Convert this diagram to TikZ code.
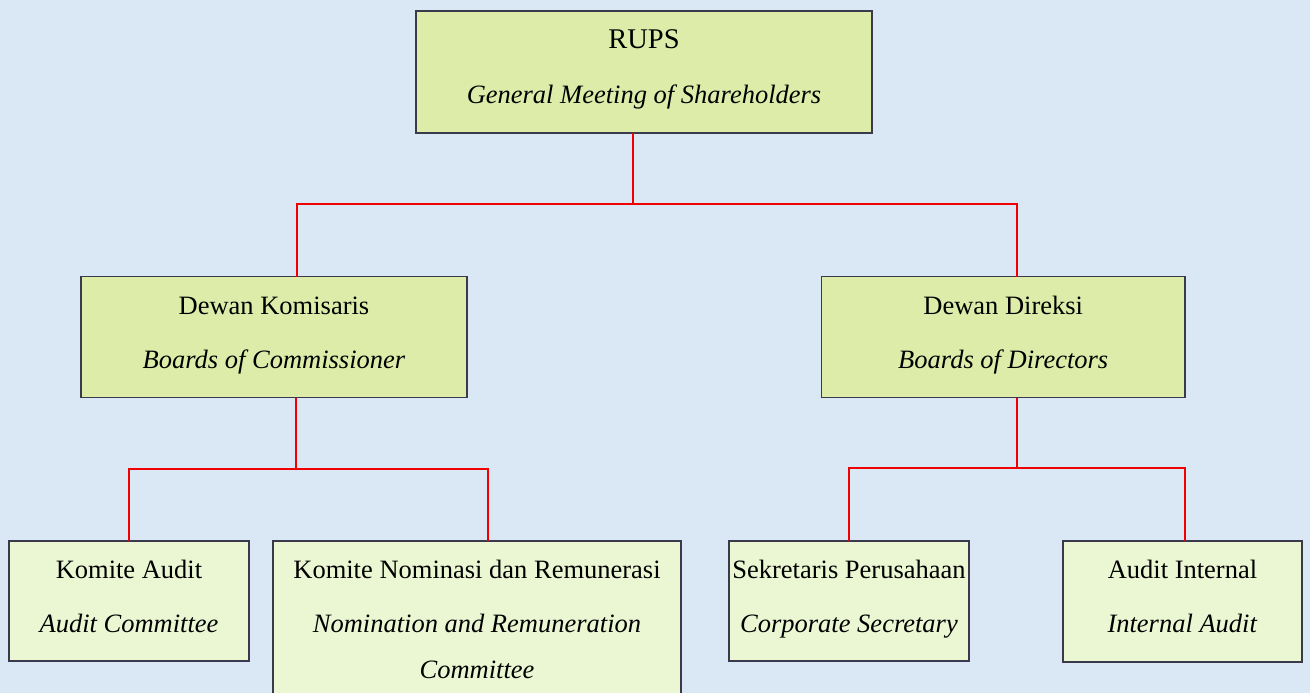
\documentclass[tikz,border=0pt]{standalone}
\usepackage{fontspec}
\setmainfont{Liberation Serif}
\definecolor{bgblue}{HTML}{DAE7F4}
\definecolor{topfill}{HTML}{DDEDA9}
\definecolor{lowfill}{HTML}{EBF6D3}
\definecolor{boxline}{HTML}{3A3A4C}
\definecolor{linkred}{HTML}{F00000}
% box content: width, height, lines
\newcommand{\orgtext}[3]{%
  \begin{minipage}[t][#2pt][t]{#1pt}\centering
  \fontsize{26.5}{54}\selectfont
  \rule{0pt}{37.5pt}#3\end{minipage}}
\tikzset{
  orgbox/.style={draw=boxline, line width=1.4pt, inner sep=0pt, outer sep=0pt, rectangle},
  topbox/.style={orgbox, fill=topfill},
  lowbox/.style={orgbox, fill=lowfill},
  link/.style={draw=linkred, line width=2pt}
}
\begin{document}
\begin{tikzpicture}[x=1pt,y=-1pt]
\useasboundingbox (0,0) rectangle (1310,693);
\clip (0,0) rectangle (1310,693);
\fill[bgblue] (0,0) rectangle (1310,693);

\node[topbox, anchor=north west] (rups) at (416,11)
  {\orgtext{456}{122}{{\fontsize{28.5}{54}\selectfont RUPS}\\[1pt]\textit{General Meeting of Shareholders}}};
\node[topbox, anchor=north west] (dk) at (81,276.5)
  {\orgtext{386}{121}{Dewan Komisaris\\\textit{Boards of Commissioner}}};
\node[topbox, anchor=north west] (dd) at (821.5,276.5)
  {\orgtext{363.5}{121}{Dewan Direksi\\\textit{Boards of Directors}}};
\node[lowbox, anchor=north west] (ka) at (9,541)
  {\orgtext{240}{120}{Komite Audit\\\textit{Audit Committee}}};
\node[lowbox, anchor=north west] (knr) at (273,541)
  {\orgtext{408}{170}{Komite Nominasi dan Remunerasi\\\textit{Nomination and Remuneration}\\[-8pt]\textit{Committee}}};
\node[lowbox, anchor=north west] (sp) at (729,541)
  {\orgtext{240}{120}{Sekretaris Perusahaan\\\textit{Corporate Secretary}}};
\node[lowbox, anchor=north west] (ai) at (1063,541)
  {\orgtext{239}{121}{Audit Internal\\\textit{Internal Audit}}};

% junction coordinates
\coordinate (j1) at (633,204);
\coordinate (j2) at (296,468.5);
\coordinate (j3) at (1017,468);

\draw[link] (rups.south -| j1) -- (j1);
\draw[link] (dk.north -| 297,0) |- (j1) -| (dd.north -| 1017,0);
\draw[link] (dk.south -| j2) -- (j2);
\draw[link] (ka.north) |- (j2) -| (knr.north -| 488,0);
\draw[link] (dd.south -| j3) -- (j3);
\draw[link] (sp.north) |- (j3) -| (ai.north -| 1185,0);
\end{tikzpicture}
\end{document}
